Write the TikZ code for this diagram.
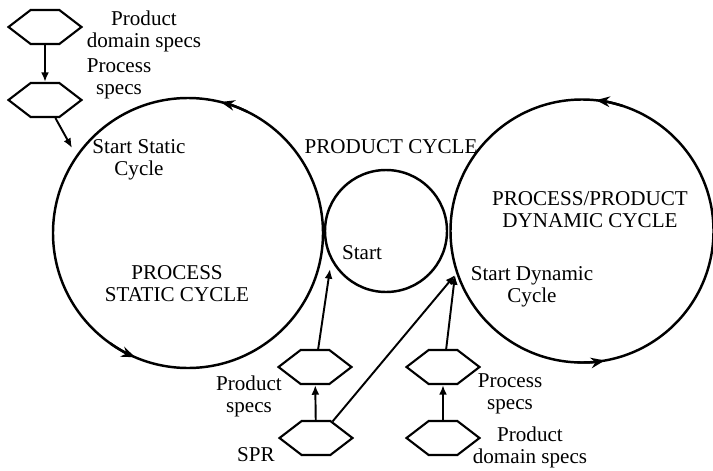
\documentclass[tikz,border=0pt]{standalone}
\usepackage{fontspec}
\setmainfont{Liberation Serif}
\usetikzlibrary{shapes.symbols,arrows.meta}
\begin{document}
\begin{tikzpicture}[>={Latex[length=5.5pt,width=4.5pt]}, line width=1.1pt,
  font=\fontsize{12}{12.5}\selectfont,
  hexa/.style={signal, signal to=west and east, signal pointer angle=75,
    draw, line width=1.2pt, minimum width=1.46cm, minimum height=0.68cm, inner sep=0pt},
  cyc/.style={circle, draw, line width=1.4pt, inner sep=0pt, outer sep=0pt},
  turn/.style={line width=1.4pt, -{Stealth[length=8pt,width=6pt]}},
  lbl/.style={align=center}]
\useasboundingbox (0,0) rectangle (14.26,9.4);
% cycles
\node[cyc, minimum size=5.4cm] (st) at (3.76,4.74){};
\node[cyc, minimum size=2.44cm] (sm) at (7.72,4.78){};
\node[cyc, minimum size=5.26cm] (dy) at (11.64,4.78){};
\draw[turn] (st.64) arc[start angle=64, end angle=76, radius=2.7cm];
\draw[turn] (st.235) arc[start angle=235, end angle=247, radius=2.7cm];
\draw[turn] (dy.72) arc[start angle=72, end angle=84, radius=2.63cm];
\draw[turn] (dy.268) arc[start angle=268, end angle=280, radius=2.63cm];
% spec boxes
\node[hexa] (pd1) at (0.9,8.86){};
\node[hexa] (ps1) at (0.9,7.4){};
\node[hexa] (prs) at (6.3,2.06){};
\node[hexa] (spr) at (6.32,0.64){};
\node[hexa] (pcs) at (8.86,2.06){};
\node[hexa] (pds) at (8.86,0.64){};
% start points
\coordinate (ss) at (1.44,6.44);
\coordinate (sa) at (6.6,4.02);
\coordinate (sd) at (9.1,3.9);
\draw[->] (pd1) -- (ps1);
\draw[->] (ps1.-60) -- (ss);
\draw[->] (spr) -- (prs);
\draw[->] (prs.80) -- (sa);
\draw[->] (spr.45) -- (sd);
\draw[->] (pds) -- (pcs);
\draw[->] (pcs.80) -- (sd);
% texts
\node[lbl] (t1) at (2.88,8.78){Product\\domain specs};
\node[lbl] (t2) at (2.38,7.82){Process\\specs};
\node[lbl] (t3) at (2.78,6.2){Start Static\\Cycle};
\node[lbl] (t4) at (3.54,3.72){PROCESS\\STATIC CYCLE};
\node[lbl] (t5) at (7.82,6.46){PRODUCT CYCLE};
\node[lbl] (t6) at (7.24,4.34){Start};
\node[lbl] (t7) at (11.8,5.2){PROCESS/PRODUCT\\DYNAMIC CYCLE};
\node[lbl] (t8) at (10.64,3.66){Start Dynamic\\Cycle};
\node[lbl] (t9) at (4.98,1.48){Product\\specs};
\node[lbl] (t10) at (5.12,0.3){SPR};
\node[lbl] (t11) at (10.2,1.52){Process\\specs};
\node[lbl] (t12) at (10.6,0.46){Product\\domain specs};
\end{tikzpicture}
\end{document}
